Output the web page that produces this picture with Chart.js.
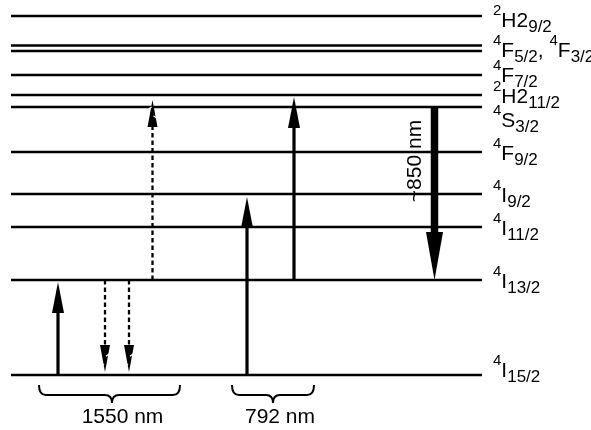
<!DOCTYPE html>
<html><head><meta charset="utf-8">
<script src="https://cdn.jsdelivr.net/npm/chart.js@4"></script>
<style>html,body{margin:0;padding:0;background:#fff}#wrap{width:591px;height:430px;position:relative}</style>
</head><body><div id="wrap"><canvas id="c"></canvas></div>
<script>
// ---- Energy levels (height above the ground state, as drawn; 1 unit = 1 px) ----
const levelNames  = ['4I15/2','4I13/2','4I11/2','4I9/2','4F9/2','4S3/2','2H11/2','4F7/2','4F5/2','4F3/2','2H9/2'];
const levelEnergy = [0, 95, 148, 181, 223, 268, 280, 300, 324, 329.5, 359];

// ---- Transitions (arrows) ----
const transX     = [58, 105, 129, 152.5, 247, 294, 434.5];
const transFrom  = ['4I15/2','4I13/2','4I13/2','4I13/2','4I15/2','4I13/2','4S3/2'];
const transTo    = ['4I13/2','4I15/2','4I15/2','4S3/2','4I9/2','2H11/2','4I13/2'];
const transStyle = ['solid','dashed','dashed','dashed','solid','solid','thick'];

// ---- Wavelength labels ----
const braceLabels = ['1550 nm', '792 nm'];
const braceFrom   = [39, 232];
const braceTo     = [180, 314];
const braceTip    = [112, 273];
const emissionLabel = '~850 nm';

// ---- Level label texts: [text, kind] ----
const levelLabelParts = {
  '2H9/2':  [['2','sup'],['H2','main'],['9/2','sub']],
  '4F5/2':  [['4','sup'],['F','main'],['5/2','sub'],[', ','main'],['4','sup'],['F','main'],['3/2','sub']],
  '4F7/2':  [['4','sup'],['F','main'],['7/2','sub']],
  '2H11/2': [['2','sup'],['H2','main'],['11/2','sub']],
  '4S3/2':  [['4','sup'],['S','main'],['3/2','sub']],
  '4F9/2':  [['4','sup'],['F','main'],['9/2','sub']],
  '4I9/2':  [['4','sup'],['I','main'],['9/2','sub']],
  '4I11/2': [['4','sup'],['I','main'],['11/2','sub']],
  '4I13/2': [['4','sup'],['I','main'],['13/2','sub']],
  '4I15/2': [['4','sup'],['I','main'],['15/2','sub']]
};

// ---- layout / style ----
const LINE_X0 = 11, LINE_X1 = 482, LABEL_X = 493;
const labelDy = {'2H9/2':10.5,'4F5/2':6,'4F7/2':7,'2H11/2':8,'4S3/2':20,'4F9/2':8,'4I9/2':8,'4I11/2':8,'4I13/2':8,'4I15/2':2};
const tipShift = [-2, 3, 3, 7, -3, -2, 0];
const headSpec = {solid:{len:31,hw:6}, dashed:{len:27,hw:5}, thick:{len:48,hw:8.5}};
const FONT = '"Liberation Sans", Arial, Helvetica, sans-serif';
const SIZE = {main:21, sup:15, sub:17};
const SHIFT = {main:0, sup:-12, sub:5};

const E = n => levelEnergy[levelNames.indexOf(n)];

const datasets = [];
levelNames.forEach(n => {
  datasets.push({data:[{x:LINE_X0,y:E(n)},{x:LINE_X1,y:E(n)}], borderColor:'#000', borderWidth:2.6, showLine:true, pointRadius:0, borderCapStyle:'butt'});
});
transX.forEach((x,i) => {
  const from = E(transFrom[i]), to = E(transTo[i]);
  const dir = to > from ? 1 : -1;
  const tip = to + tipShift[i];
  const hs = headSpec[transStyle[i]];
  const end = tip - dir*(hs.len - 3);
  const st = transStyle[i];
  datasets.push({data:[{x:x,y:from},{x:x,y:end}], borderColor:'#000',
    borderWidth: st==='thick'?7.5:(st==='dashed'?2.3:3.2), borderDash: st==='dashed'?[4.5,3]:[],
    showLine:true, pointRadius:0, borderCapStyle:'butt'});
});

const decor = {
  id:'decor',
  afterDatasetsDraw(chart){
    const ctx = chart.ctx, xs = chart.scales.x, ys = chart.scales.y;
    ctx.save();
    ctx.fillStyle = '#000'; ctx.strokeStyle = '#000';
    // arrow heads
    transX.forEach((xv,i) => {
      const from = E(transFrom[i]), to = E(transTo[i]);
      const dir = to > from ? 1 : -1; // 1 = upward
      const x = xs.getPixelForValue(xv);
      const tipY = ys.getPixelForValue(to + tipShift[i]);
      const hs = headSpec[transStyle[i]];
      const baseY = tipY + dir*hs.len;
      ctx.beginPath();
      ctx.moveTo(x, tipY);
      ctx.lineTo(x - hs.hw, baseY);
      ctx.lineTo(x + hs.hw, baseY);
      ctx.closePath();
      ctx.fill();
      if (transStyle[i] === 'dashed') {
        ctx.save();
        ctx.strokeStyle = '#fff'; ctx.lineWidth = 1.3;
        [0.3, 0.62].forEach((f,k) => {
          const yy = tipY + dir*hs.len*f;
          ctx.beginPath();
          const side = k===0 ? -1 : 1;
          ctx.moveTo(x + side*hs.hw, yy + dir*2);
          ctx.lineTo(x + side*1, yy - dir*1);
          ctx.stroke();
        });
        ctx.restore();
      }
    });
    // level labels
    ctx.textBaseline = 'alphabetic'; ctx.textAlign = 'left';
    Object.keys(levelLabelParts).forEach(n => {
      let x = LABEL_X;
      const base = ys.getPixelForValue(E(n)) + labelDy[n];
      levelLabelParts[n].forEach(([t,k]) => {
        ctx.font = SIZE[k] + 'px ' + FONT;
        ctx.fillText(t, x, base + SHIFT[k]);
        x += ctx.measureText(t).width;
      });
    });
    // braces
    ctx.lineWidth = 2;
    const yTop = ys.getPixelForValue(-10), yMid = ys.getPixelForValue(-20), yTipB = ys.getPixelForValue(-28);
    braceLabels.forEach((lab,i) => {
      const a = xs.getPixelForValue(braceFrom[i]), b = xs.getPixelForValue(braceTo[i]), t = xs.getPixelForValue(braceTip[i]);
      const r = 7;
      ctx.beginPath();
      ctx.moveTo(a, yTop);
      ctx.quadraticCurveTo(a, yMid, a + r, yMid);
      ctx.lineTo(t - r, yMid);
      ctx.quadraticCurveTo(t, yMid, t, yTipB);
      ctx.quadraticCurveTo(t, yMid, t + r, yMid);
      ctx.lineTo(b - r, yMid);
      ctx.quadraticCurveTo(b, yMid, b, yTop);
      ctx.stroke();
      ctx.font = '21px ' + FONT;
      ctx.textAlign = 'center';
      ctx.fillText(lab, (a + b)/2 + (i===0 ? 13 : 7), ys.getPixelForValue(-47.5));
    });
    // emission label (rotated)
    ctx.save();
    const ex = xs.getPixelForValue(421), ey = ys.getPixelForValue(214);
    ctx.translate(ex, ey);
    ctx.rotate(-Math.PI/2);
    ctx.font = '21px ' + FONT;
    ctx.textAlign = 'center';
    ctx.fillText(emissionLabel, 0, 0);
    ctx.restore();
    ctx.restore();
  }
};

new Chart(document.getElementById('c'), {
  type:'scatter',
  data:{datasets},
  options:{
    responsive:true, maintainAspectRatio:false, animation:false, events:[],
    layout:{padding:0},
    plugins:{legend:{display:false}, tooltip:{enabled:false}, title:{display:false}},
    scales:{
      x:{type:'linear', min:0, max:591, display:false},
      y:{type:'linear', min:-55, max:375, display:false}
    }
  },
  plugins:[decor]
});
</script></body></html>
